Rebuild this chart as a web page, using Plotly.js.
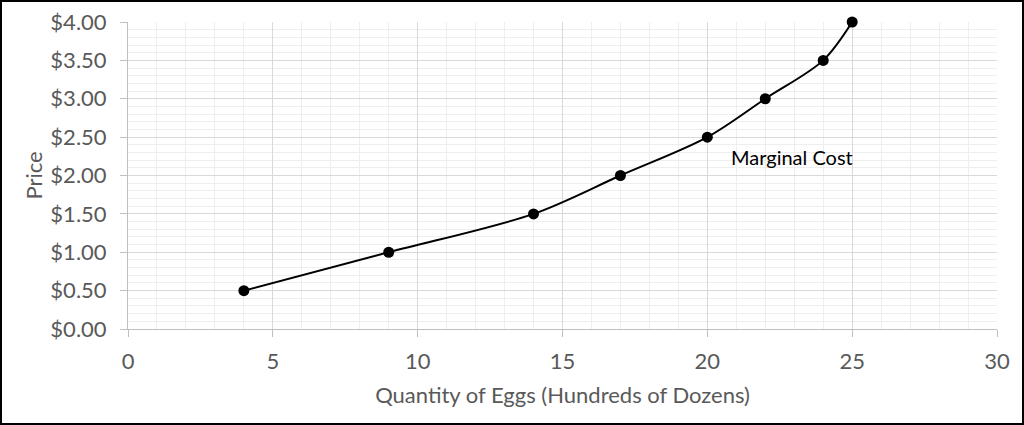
<!DOCTYPE html>
<html><head><meta charset="utf-8">
<script src="https://cdn.plot.ly/plotly-3.0.1.min.js"></script>
<style>
html,body{margin:0;padding:0;background:#fff;}
#wrap{position:relative;width:1024px;height:425px;}
#chart{width:1024px;height:425px;}
#frame{position:absolute;left:0;top:0;width:1024px;height:425px;box-sizing:border-box;border:2px solid #000;pointer-events:none;}
</style></head>
<body><div id="wrap"><div id="chart"></div><div id="frame"></div></div>
<script>
const quantity = [4, 9, 14, 17, 20, 22, 24, 25];
const price = [0.5, 1.0, 1.5, 2.0, 2.5, 3.0, 3.5, 4.0];
const xTicks = [0, 5, 10, 15, 20, 25, 30];
const yTicks = [0, 0.5, 1, 1.5, 2, 2.5, 3, 3.5, 4];
const yTickLabels = yTicks.map(v => '$' + v.toFixed(2));
const curveLabel = 'Marginal Cost';
const labelPos = [20.75, 2.24];

const font = "Lato, 'Open Sans', sans-serif";
const gray = '#595959';

Plotly.newPlot('chart', [{
  x: quantity, y: price, type: 'scatter', mode: 'lines+markers',
  line: {color: '#000', width: 2, shape: 'spline', smoothing: 0.9},
  marker: {color: '#000', size: 11},
  cliponaxis: false,
  hoverinfo: 'skip'
}], {
  width: 1024, height: 425,
  margin: {l: 128, r: 27, t: 22, b: 96},
  paper_bgcolor: '#fff', plot_bgcolor: '#fff',
  showlegend: false,
  font: {family: font, color: gray, size: 22},
  xaxis: {
    range: [0, 30], tickvals: xTicks, ticktext: xTicks.map(String),
    showgrid: true, gridcolor: '#d9d9d9', gridwidth: 1,
    minor: {dtick: 1, showgrid: true, gridcolor: '#eeeeee', gridwidth: 1, ticks: ''},
    showline: true, linecolor: '#bfbfbf', linewidth: 1,
    ticks: 'outside', ticklen: 7, tickcolor: '#bfbfbf',
    ticklabelstandoff: 6,
    zeroline: false, fixedrange: true, automargin: false,
    tickfont: {family: font, size: 22, color: gray},
    title: {text: 'Quantity of Eggs (Hundreds of Dozens)', font: {family: font, size: 22, color: gray}, standoff: 14}
  },
  yaxis: {
    range: [0, 4], tickvals: yTicks, ticktext: yTickLabels,
    showgrid: true, gridcolor: '#d9d9d9', gridwidth: 1,
    minor: {dtick: 0.1, showgrid: true, gridcolor: '#eeeeee', gridwidth: 1, ticks: ''},
    showline: true, linecolor: '#bfbfbf', linewidth: 1,
    ticks: 'outside', ticklen: 7, tickcolor: '#bfbfbf',
    ticklabelstandoff: 9,
    zeroline: false, fixedrange: true, automargin: false,
    tickfont: {family: font, size: 22, color: gray},
    title: {text: 'Price', font: {family: font, size: 22, color: gray}, standoff: 1}
  },
  annotations: [{
    x: labelPos[0], y: labelPos[1], xref: 'x', yref: 'y',
    text: curveLabel, showarrow: false, xanchor: 'left', yanchor: 'middle',
    font: {family: font, size: 20, color: '#000'}
  }]
}, {staticPlot: true});
</script></body></html>
